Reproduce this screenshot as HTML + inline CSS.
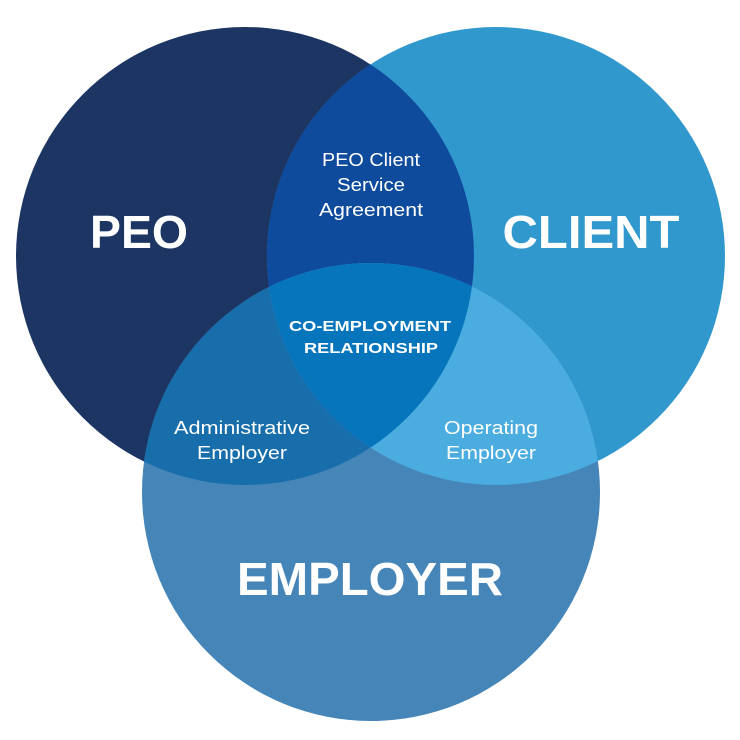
<!DOCTYPE html>
<html><head><style>body{margin:0;background:#fff}svg{display:block}</style></head><body>
<svg width="740" height="740" viewBox="0 0 740 740" xmlns="http://www.w3.org/2000/svg" font-family="'Liberation Sans', sans-serif">
<defs>
<clipPath id="p"><circle cx="245" cy="256" r="229"/></clipPath>
<clipPath id="c"><circle cx="496" cy="256" r="229"/></clipPath>
<clipPath id="e"><circle cx="371" cy="492" r="229"/></clipPath>
</defs>
<circle cx="245" cy="256" r="229" fill="#1d3563"/>
<circle cx="496" cy="256" r="229" fill="#3098cd"/>
<circle cx="371" cy="492" r="229" fill="#4585b8"/>
<circle cx="496" cy="256" r="229" fill="#0f4b9c" clip-path="url(#p)"/>
<circle cx="371" cy="492" r="229" fill="#176eab" clip-path="url(#p)"/>
<circle cx="371" cy="492" r="229" fill="#4aacdf" clip-path="url(#c)"/>
<g clip-path="url(#p)"><circle cx="371" cy="492" r="229" fill="#0775bb" clip-path="url(#c)"/></g>
<g fill="#fff" text-anchor="middle" lengthAdjust="spacingAndGlyphs">
<text x="139" y="248" font-size="46" font-weight="bold" textLength="98" lengthAdjust="spacingAndGlyphs">PEO</text>
<text x="591" y="248" font-size="46" font-weight="bold" textLength="177" lengthAdjust="spacingAndGlyphs">CLIENT</text>
<text x="370" y="595" font-size="46" font-weight="bold" textLength="266" lengthAdjust="spacingAndGlyphs">EMPLOYER</text>
<text x="371" y="166" font-size="18" textLength="98" lengthAdjust="spacingAndGlyphs">PEO Client</text>
<text x="371" y="191" font-size="18" textLength="68" lengthAdjust="spacingAndGlyphs">Service</text>
<text x="371" y="216" font-size="18" textLength="104" lengthAdjust="spacingAndGlyphs">Agreement</text>
<text x="370" y="331" font-size="15" font-weight="bold" textLength="162" lengthAdjust="spacingAndGlyphs">CO-EMPLOYMENT</text>
<text x="371" y="353" font-size="15" font-weight="bold" textLength="134" lengthAdjust="spacingAndGlyphs">RELATIONSHIP</text>
<text x="242" y="434" font-size="18" textLength="136" lengthAdjust="spacingAndGlyphs">Administrative</text>
<text x="242" y="459" font-size="18" textLength="90" lengthAdjust="spacingAndGlyphs">Employer</text>
<text x="491" y="434" font-size="18" textLength="94" lengthAdjust="spacingAndGlyphs">Operating</text>
<text x="491" y="459" font-size="18" textLength="90" lengthAdjust="spacingAndGlyphs">Employer</text>
</g>
</svg>
</body></html>
